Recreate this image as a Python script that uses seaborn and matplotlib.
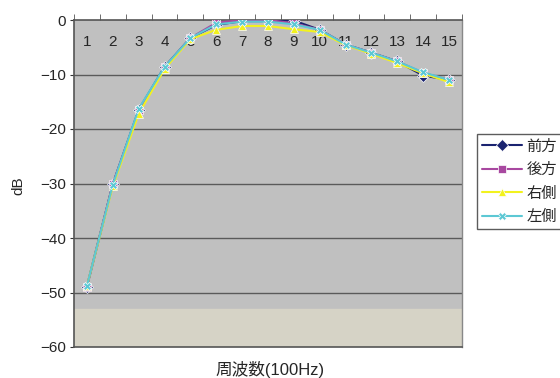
import matplotlib
matplotlib.use("Agg")
import matplotlib.pyplot as plt
import seaborn as sns
import pandas as pd
import numpy as np

freq = list(range(1, 16))
front = [-48.9, -30.1, -16.5, -8.6, -3.3, -0.9, -0.2, -0.2, -0.1, -1.8, -4.5, -6.0, -7.6, -10.2, -11.0]
back  = [-48.9, -30.1, -16.6, -8.7, -3.3, -0.5, 0.0, 0.0, -0.6, -1.8, -4.5, -6.0, -7.6, -9.7, -11.0]
right = [-48.8, -30.5, -17.2, -9.0, -3.5, -1.8, -1.1, -1.1, -1.7, -2.2, -4.6, -6.2, -7.9, -9.8, -11.4]
left  = [-48.8, -30.2, -16.3, -8.6, -3.3, -0.8, -0.3, -0.3, -0.8, -1.8, -4.5, -6.0, -7.6, -9.6, -11.0]
series_names = ["前方", "後方", "右側", "左側"]
xlabel = "周波数(100Hz)"
ylabel = "dB"

sns.set_style("white")
plt.rcParams['font.family'] = ['Liberation Sans', 'Noto Sans CJK JP', 'DejaVu Sans']

rows = []
for name, vals in zip(series_names, [front, back, right, left]):
    for f, v in zip(freq, vals):
        rows.append({"freq": f, "dB": v, "series": name})
df = pd.DataFrame(rows)

colors = {"前方": "#1a2370", "後方": "#a848a0", "右側": "#f2f21e", "左側": "#5cc8d4"}
markers = {"前方": "D", "後方": "s", "右側": "^", "左側": "X"}

fig = plt.figure(figsize=(5.6, 3.78), dpi=100)
ax = fig.add_axes([74/560, 1-347/378, (462-74)/560, (347-20)/378])
ax.set_facecolor("#c0c0c0")
ax.axhspan(-60, -53, color="#d6d3c6", zorder=0)

sns.lineplot(data=df, x="freq", y="dB", hue="series", style="series",
             palette=colors, markers=markers, dashes=False, markersize=6,
             linewidth=1.5, markeredgewidth=0.5, ax=ax, legend=True, zorder=3)

ax.set_xlim(0.5, 15.5)
ax.set_ylim(-60, 0)
ax.set_yticks(range(-60, 1, 10))
for yv in range(-50, 0, 10):
    ax.axhline(yv, color="#5a5a5a", lw=1.0, zorder=1)

ax.xaxis.tick_top()
ax.set_xticks(freq)
ax.set_xticklabels([str(f) for f in freq], fontsize=11)
ax.set_xticks(np.arange(0.5, 15.6, 1), minor=True)
ax.tick_params(axis='x', which='major', length=0, pad=-21, labeltop=True, labelbottom=False)
ax.tick_params(axis='x', which='minor', length=4, direction='out', color='#555555', top=True, bottom=False)
ax.tick_params(axis='y', length=3, direction='out', color='#333333', labelsize=11, pad=3, left=True)
ax.set_xlabel("")
ax.set_ylabel("")

for s in ["left", "bottom", "top"]:
    ax.spines[s].set_color("#555555")
    ax.spines[s].set_linewidth(1.2)
ax.spines["right"].set_color("#888888")
ax.spines["right"].set_linewidth(1.0)

fig.text(270/560, 1-369/378, xlabel, ha="center", va="center", fontsize=12)
fig.text(18/560, 1-186/378, ylabel, ha="center", va="center", rotation=90, fontsize=11)

handles, labels = ax.get_legend_handles_labels()
ax.legend(handles, labels, loc="upper left", bbox_to_anchor=(477/560, 1-134/378),
          bbox_transform=fig.transFigure, frameon=True, fancybox=False,
          edgecolor="#333333", fontsize=11, handlelength=2.6, borderpad=0.35,
          labelspacing=0.62, handletextpad=0.3, borderaxespad=0)

fig.savefig("out.png", dpi=100, facecolor="white")
